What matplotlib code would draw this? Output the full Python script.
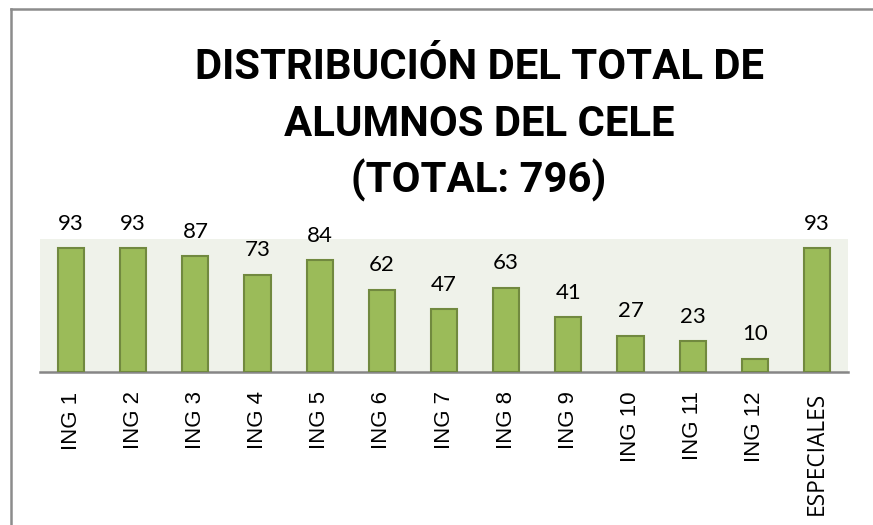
import matplotlib
matplotlib.use("Agg")
import matplotlib.pyplot as plt
from matplotlib.lines import Line2D

categories = ["ING 1", "ING 2", "ING 3", "ING 4", "ING 5", "ING 6", "ING 7",
              "ING 8", "ING 9", "ING 10", "ING 11", "ING 12", "ESPECIALES"]
values = [93, 93, 87, 73, 84, 62, 47, 63, 41, 27, 23, 10, 93]
title_lines = ["DISTRIBUCIÓN DEL TOTAL DE", "ALUMNOS DEL CELE", "(TOTAL: 796)"]

W, H = 873, 525
fig = plt.figure(figsize=(W / 100, H / 100), dpi=100)
fig.patch.set_facecolor("white")

# plot area in pixels
x0, x1 = 40, 848
ytop, ybot = 239, 372
ax = fig.add_axes([x0 / W, 1 - ybot / H, (x1 - x0) / W, (ybot - ytop) / H])
ax.set_facecolor("#EFF2EA")

xs = list(range(len(categories)))
ax.bar(xs, values, width=0.42, color="#9BBB59", edgecolor="#71893F", linewidth=1.5, zorder=3)
ax.set_xlim(-0.5, len(categories) - 0.5)
ax.set_ylim(0, 100)

for x, v in zip(xs, values):
    ax.annotate(str(v), (x, v), xytext=(0, 13.5), textcoords="offset points",
                ha="center", va="baseline", fontsize=16, family="Lato", color="black")

for s in ["top", "right", "left"]:
    ax.spines[s].set_visible(False)
ax.spines["bottom"].set_color("#868686")
ax.spines["bottom"].set_linewidth(1.8)
ax.set_yticks([])
ax.set_xticks(xs)
ax.set_xticklabels(categories, rotation=90, fontsize=16, family="Liberation Sans")
ax.get_xticklabels()[-1].set_family("Open Sans")
ax.get_xticklabels()[-1].set_fontsize(16.3)
ax.tick_params(axis="x", length=0, pad=14)

baselines = [79, 136, 193]
for line, yb in zip(title_lines, baselines):
    fig.text(479 / W, 1 - yb / H, line, ha="center", va="baseline",
             fontsize=30.2, fontweight="bold", family="Roboto")

# frame lines
fig.add_artist(Line2D([10.5 / W, 10.5 / W], [0, 1 - 9 / H], color="#8C8C8C", lw=1.8))
fig.add_artist(Line2D([10.5 / W, 1], [1 - 9 / H, 1 - 9 / H], color="#8C8C8C", lw=1.8))

fig.savefig("out.png", dpi=100)
